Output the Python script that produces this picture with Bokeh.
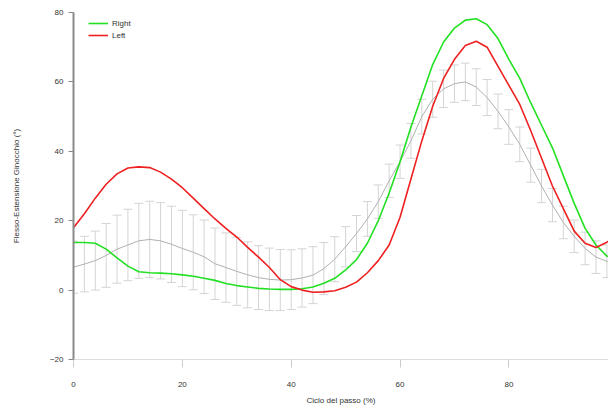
from bokeh.plotting import figure
from bokeh.models import ColumnDataSource, Whisker, TeeHead, FixedTicker, Range1d, Legend, LegendItem
from bokeh.embed import file_html
from bokeh.resources import INLINE

pct = list(range(0, 101, 2))

mean_curve = [6.6, 7.5, 8.5, 10, 11.8, 13, 14.2, 14.6, 14.2, 13.2,
              12, 10.9, 9.6, 7.6, 6.5, 5.4, 4.4, 3.6, 3.1, 2.9,
              3.0, 3.5, 4.3, 6.2, 8.9, 12.5, 16.3, 20.5, 25.5, 31.5,
              37, 43, 50, 55, 58, 59.5, 60, 58.5, 55.5, 51.5,
              47, 42, 36, 30, 24.5, 19.5, 15.5, 12, 9.5, 8.3, 7.8]

sd_curve = [7.5, 8, 8.5, 9.2, 9.8, 10.3, 10.8, 11, 11, 11,
            11, 10.8, 10.6, 10.3, 10, 9.8, 9.5, 9.2, 9, 8.8,
            8.6, 8.4, 8.2, 7.5, 6.5, 5.8, 5.2, 5, 4.8, 4.8,
            4.8, 5, 5, 5.2, 5.4, 5.4, 5.4, 5.3, 5.2, 5,
            5, 5, 4.9, 4.8, 4.8, 4.7, 4.7, 4.7, 4.7, 4.7, 4.7]

right_curve = [13.7, 13.7, 13.5, 11.8, 9.3, 6.9, 5.3, 5, 4.9, 4.7,
               4.4, 4, 3.4, 2.8, 1.9, 1.3, 0.9, 0.5, 0.3, 0.2,
               0.2, 0.4, 0.9, 2, 3.4, 5.8, 8.8, 13.5, 20, 28,
               37, 47, 56, 65, 71.5, 75.5, 77.8, 78.2, 76.5, 72.5,
               66.5, 61, 54, 47.5, 41, 33, 25, 17.8, 13, 9.8, 9]

left_curve = [18, 22, 26.5, 30.5, 33.5, 35.2, 35.5, 35.3, 34, 32,
              29.5, 26.5, 23.5, 20.5, 17.8, 15.3, 12.3, 9.5, 6.5, 3,
              1, 0, -0.6, -0.5, -0.2, 0.8, 2.3, 5, 8.5, 13,
              21, 32, 43, 53, 61, 66.5, 70.5, 71.7, 70, 64.5,
              59, 53.5, 46, 38, 30, 23.5, 17, 13.5, 12.3, 13.8, 16]

y_ticks = [-20, 0, 20, 40, 60, 80]
x_ticks = [0, 20, 40, 60, 80, 100]

FONT = "Liberation Sans"

p = figure(width=608, height=407, output_backend="svg", toolbar_location=None,
           x_range=Range1d(0, 98.3), y_range=Range1d(-20, 80),
           min_border_left=73, min_border_right=0, min_border_top=12, min_border_bottom=44)
p.outline_line_color = None
p.xgrid.visible = False
p.ygrid.visible = False

src = ColumnDataSource(dict(
    x=pct, mean=mean_curve,
    upper=[m + s for m, s in zip(mean_curve, sd_curve)],
    lower=[m - s for m, s in zip(mean_curve, sd_curve)],
))

w = Whisker(base="x", upper="upper", lower="lower", source=src,
            line_color="#d4d4d4", line_width=1,
            upper_head=TeeHead(size=9, line_color="#d4d4d4", line_width=1),
            lower_head=TeeHead(size=9, line_color="#d4d4d4", line_width=1))
p.add_layout(w)
p.line("x", "mean", source=src, line_color="#b0b0b0", line_width=1)

r_right = p.line(pct, right_curve, line_color="#22e022", line_width=1.6)
r_left = p.line(pct, left_curve, line_color="#ee2020", line_width=1.6)

legend = Legend(items=[LegendItem(label="Right", renderers=[r_right]),
                       LegendItem(label="Left", renderers=[r_left])],
                location=(15, 319))
legend.border_line_color = None
legend.background_fill_alpha = 0
legend.label_text_font = FONT
legend.label_text_font_size = "8px"
legend.label_text_color = "#333333"
legend.glyph_width = 20
legend.glyph_height = 10
legend.label_height = 10
legend.spacing = 2
legend.padding = 2
legend.margin = 0
legend.label_standoff = 4
p.add_layout(legend)

p.yaxis.ticker = FixedTicker(ticks=y_ticks)
p.xaxis.ticker = FixedTicker(ticks=x_ticks)
p.yaxis.minor_tick_line_color = None
p.xaxis.minor_tick_line_color = None

p.yaxis.axis_line_color = "#8a8a8a"
p.yaxis.axis_line_width = 2
p.yaxis.major_tick_line_color = "#8a8a8a"
p.yaxis.major_tick_out = 5
p.yaxis.major_tick_in = 0

p.xaxis.axis_line_color = "#dddddd"
p.xaxis.axis_line_width = 1
p.xaxis.major_tick_line_color = "#cccccc"
p.xaxis.major_tick_out = 8
p.xaxis.major_tick_in = 0

for ax in (p.xaxis, p.yaxis):
    ax.major_label_text_font = FONT
    ax.major_label_text_font_size = "8px"
    ax.major_label_text_color = "#333333"
    ax.axis_label_text_font = FONT
    ax.axis_label_text_font_size = "8px"
    ax.axis_label_text_font_style = "normal"
    ax.axis_label_text_color = "#333333"

p.xaxis.major_label_standoff = 14
p.xaxis.axis_label = "Ciclo del passo (%)"
p.xaxis.axis_label_standoff = 6
p.yaxis.axis_label = "Flesso-Estensione Ginocchio (°)"
p.yaxis.axis_label_standoff = 26

html = file_html(p, INLINE)
open("out.html", "w").write(html)
